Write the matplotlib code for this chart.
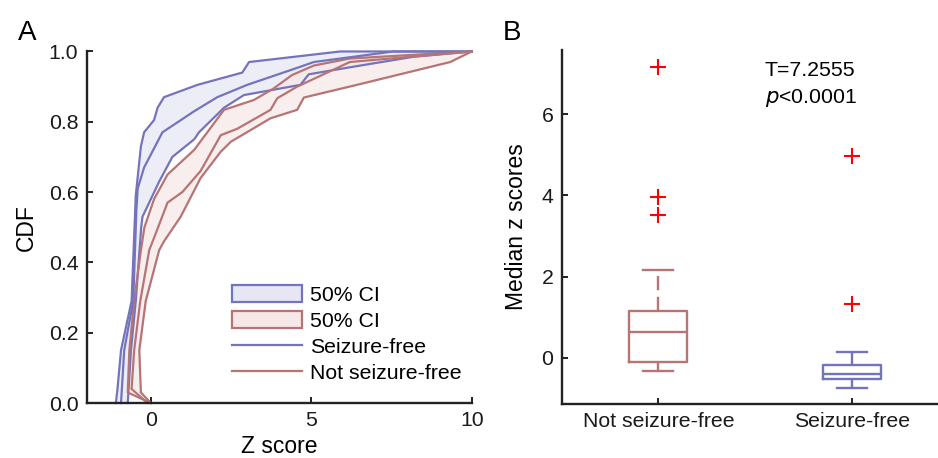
import matplotlib
matplotlib.use("Agg")
import matplotlib.pyplot as plt
from matplotlib.patches import Patch
from matplotlib.lines import Line2D
import numpy as np

plt.rcParams['font.family'] = ['Liberation Sans', 'DejaVu Sans']

# ---------------- Data: panel A (CDF curves, x = Z score, y = CDF) -------------
sf_upper_x = [-1.09, -1.04, -0.93, -0.60, -0.47, -0.31, -0.21, 0.10, 0.21, 0.41, 1.45, 2.85, 3.06, 5.90, 10.0]
sf_upper_y = [0.00, 0.04, 0.15, 0.29, 0.59, 0.73, 0.77, 0.805, 0.84, 0.87, 0.905, 0.94, 0.97, 1.00, 1.00]

sf_med_x = [-0.93, -0.83, -0.55, -0.45, -0.41, -0.21, 0.36, 1.35, 2.07, 3.00, 4.45, 5.08, 7.56, 10.0]
sf_med_y = [0.00, 0.15, 0.29, 0.55, 0.61, 0.67, 0.77, 0.83, 0.87, 0.905, 0.95, 0.97, 1.00, 1.00]

sf_lower_x = [-0.72, -0.62, -0.47, -0.30, -0.26, 0.26, 0.67, 1.35, 1.50, 2.28, 2.90, 4.66, 4.92, 6.20, 8.19, 10.0]
sf_lower_y = [0.00, 0.15, 0.29, 0.50, 0.53, 0.63, 0.70, 0.75, 0.77, 0.84, 0.876, 0.905, 0.935, 0.955, 0.985, 1.00]

nsf_upper_x = [0.00, -0.72, -0.67, -0.52, -0.31, -0.20, 0.10, 0.52, 1.35, 2.28, 3.21, 3.83, 4.40, 5.08, 6.20, 10.0]
nsf_upper_y = [0.00, 0.03, 0.15, 0.29, 0.435, 0.50, 0.58, 0.65, 0.72, 0.834, 0.862, 0.895, 0.933, 0.96, 0.98, 1.00]

nsf_med_x = [-0.10, -0.60, -0.52, -0.33, -0.05, 0.10, 0.52, 0.98, 1.55, 2.18, 2.69, 3.73, 3.94, 4.56, 6.20, 10.0]
nsf_med_y = [0.00, 0.04, 0.15, 0.29, 0.435, 0.47, 0.57, 0.60, 0.66, 0.762, 0.78, 0.834, 0.867, 0.90, 0.97, 1.00]

nsf_lower_x = [0.00, -0.31, -0.36, -0.16, 0.26, 0.41, 0.93, 1.55, 2.18, 2.49, 3.73, 4.56, 4.77, 6.42, 9.33, 10.0]
nsf_lower_y = [0.00, 0.03, 0.15, 0.29, 0.435, 0.46, 0.53, 0.64, 0.715, 0.743, 0.81, 0.834, 0.869, 0.905, 0.97, 1.00]

# ---------------- Data: panel B (box plot summaries) ----------------
groups = ['Not seizure-free', 'Seizure-free']
q1 = [-0.10, -0.52]
med = [0.63, -0.40]
q3 = [1.15, -0.19]
whislo = [-0.32, -0.74]
whishi = [2.16, 0.15]
fliers = [[7.17, 3.95, 3.51], [4.96, 1.32]]
stat_text = ['T=7.2555', 'p<0.0001']

# ---------------- Styling ----------------
blue = '#7474BC'
red = '#B77474'
blue_fill = '#E6E6F4'
red_fill = '#F6E8E8'
axis_col = '#222222'
fs = 15.3

fig = plt.figure(figsize=(9.38, 4.58), dpi=100)
axA = fig.add_axes([0.0924, 0.120, 0.5029 - 0.0924, 0.8876 - 0.120])
axB = fig.add_axes([0.5988, 0.1179, 1.0111 - 0.5988, 0.8908 - 0.1179])

lw = 1.6
# Panel A fills
for ux, uy, lx, ly, ec, fc in [(sf_upper_x, sf_upper_y, sf_lower_x, sf_lower_y, blue, blue_fill),
                               (nsf_upper_x, nsf_upper_y, nsf_lower_x, nsf_lower_y, red, red_fill)]:
    px = list(ux) + list(lx)[::-1]
    py = list(uy) + list(ly)[::-1]
    axA.fill(px, py, facecolor=fc, edgecolor='none', alpha=0.7, zorder=1)

for xs, ys, c in [(sf_upper_x, sf_upper_y, blue), (sf_lower_x, sf_lower_y, blue),
                  (nsf_upper_x, nsf_upper_y, red), (nsf_lower_x, nsf_lower_y, red),
                  (sf_med_x, sf_med_y, blue), (nsf_med_x, nsf_med_y, red)]:
    axA.plot(xs, ys, color=c, lw=lw, zorder=2, clip_on=False)

axA.set_xlim(-2, 10)
axA.set_ylim(0, 1)
axA.set_xticks([0, 5, 10])
axA.set_yticks(np.arange(0, 1.01, 0.2))
axA.set_yticklabels([f'{v:.1f}' for v in np.arange(0, 1.01, 0.2)])
axA.set_xlabel('Z score', fontsize=16.5, labelpad=3)
axA.set_ylabel('CDF', fontsize=16.5, labelpad=8)

handles = [Patch(facecolor=blue_fill, edgecolor=blue, lw=1.6),
           Patch(facecolor=red_fill, edgecolor=red, lw=1.6),
           Line2D([], [], color=blue, lw=lw),
           Line2D([], [], color=red, lw=lw)]
labels = ['50% CI', '50% CI', 'Seizure-free', 'Not seizure-free']
axA.legend(handles, labels, loc='lower left', bbox_to_anchor=(0.345, 0.02),
           frameon=False, fontsize=fs, handlelength=3.3, handleheight=0.85,
           handletextpad=0.35, labelspacing=0.3, borderaxespad=0.2)

# Panel B box plots
stats = []
for i in range(len(groups)):
    stats.append(dict(med=med[i], q1=q1[i], q3=q3[i], whislo=whislo[i],
                      whishi=whishi[i], fliers=fliers[i], label=groups[i]))
positions = [1, 2]
bp = axB.bxp(stats, positions=positions, widths=0.30, showfliers=True,
             patch_artist=False, manage_ticks=False)
cols = [red, blue]
for i, c in enumerate(cols):
    bp['boxes'][i].set(color=c, lw=1.7)
    bp['medians'][i].set(color=c, lw=1.7)
    for w in bp['whiskers'][2 * i:2 * i + 2]:
        w.set(color=c, lw=1.7, linestyle=(0, (6, 2.8)))
    for cp in bp['caps'][2 * i:2 * i + 2]:
        cp.set(color=c, lw=1.7)
        cp.set_xdata([positions[i] - 0.078, positions[i] + 0.078])
    bp['fliers'][i].set(marker='+', markeredgecolor='#FF0000', markersize=12,
                        markeredgewidth=1.5, linestyle='none')

axB.set_xlim(0.5, 2.5)
axB.set_ylim(-1.14, 7.58)
axB.set_xticks(positions)
axB.set_xticklabels(groups)
axB.set_yticks([0, 2, 4, 6])
axB.set_ylabel('Median z scores', fontsize=16.5, labelpad=10)
axB.text(1.55, 6.93, stat_text[0], fontsize=fs, ha='left', va='baseline')
axB.text(1.55, 6.28, r'$\it{p}$' + stat_text[1][1:], fontsize=fs, ha='left', va='baseline')

for ax in (axA, axB):
    for s in ('top', 'right'):
        ax.spines[s].set_visible(False)
    for s in ('left', 'bottom'):
        ax.spines[s].set_linewidth(1.7)
        ax.spines[s].set_color(axis_col)
    ax.tick_params(direction='in', length=4, width=1.4, labelsize=fs,
                   colors=axis_col, pad=6)
    ax.tick_params(axis='both', labelcolor='#1a1a1a')

fig.text(0.029, 0.928, 'A', fontsize=20, ha='center', va='center')
fig.text(0.546, 0.928, 'B', fontsize=20, ha='center', va='center')

fig.savefig('out.png', dpi=100)
